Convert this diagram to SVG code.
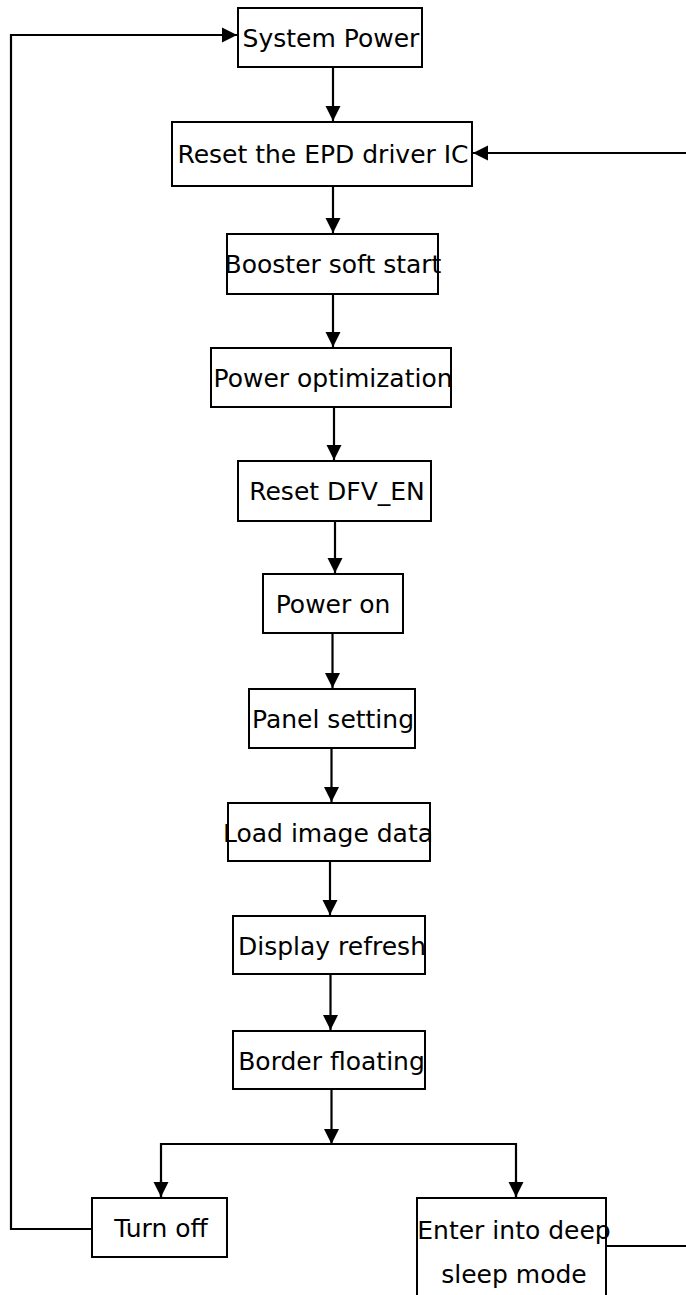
<svg xmlns="http://www.w3.org/2000/svg" width="686" height="1295" viewBox="0 0 686 1295">
<style>
.box{fill:#fff;stroke:#000;stroke-width:2}
.lbl{font-family:"DejaVu Sans","Liberation Sans",sans-serif;font-size:25px;fill:#000;text-anchor:middle}
.ln{fill:none;stroke:#000;stroke-width:2.2}
</style>
<defs>
<marker id="ah" markerUnits="userSpaceOnUse" markerWidth="16" markerHeight="16" viewBox="0 0 16 16" refX="15" refY="8" orient="auto">
<path d="M0,0.5 L15,8 L0,15.5 Z" fill="#000"/>
</marker>
</defs>
<rect width="686" height="1295" fill="#fff"/>
<g id="connectors">
<path class="ln" d="M92,1229 H11 V35 H237" marker-end="url(#ah)"/>
<path class="ln" d="M333,67 V121" marker-end="url(#ah)"/>
<path class="ln" d="M686,153 H473" marker-end="url(#ah)"/>
<path class="ln" d="M333,186 V233" marker-end="url(#ah)"/>
<path class="ln" d="M333,294 V347" marker-end="url(#ah)"/>
<path class="ln" d="M334,407 V460" marker-end="url(#ah)"/>
<path class="ln" d="M335,521 V573" marker-end="url(#ah)"/>
<path class="ln" d="M332.5,633 V688" marker-end="url(#ah)"/>
<path class="ln" d="M331.5,748 V802" marker-end="url(#ah)"/>
<path class="ln" d="M330,861 V915" marker-end="url(#ah)"/>
<path class="ln" d="M330.5,974 V1030" marker-end="url(#ah)"/>
<path class="ln" d="M331.5,1089 V1144" marker-end="url(#ah)"/>
<path class="ln" d="M161,1197 V1144 H516 V1197" />
<path class="ln" d="M161,1180 V1197" marker-end="url(#ah)"/>
<path class="ln" d="M516,1180 V1197" marker-end="url(#ah)"/>
<path class="ln" d="M606,1246 H686"/>
</g>
<g id="n1"><rect class="box" x="238" y="8" width="184" height="59"/><text class="lbl" x="331" y="46.5">System Power</text></g>
<g id="n2"><rect class="box" x="172" y="122" width="300" height="64"/><text class="lbl" x="323" y="163">Reset the EPD driver IC</text></g>
<g id="n3"><rect class="box" x="227" y="234" width="211" height="60"/><text class="lbl" x="333" y="273">Booster soft start</text></g>
<g id="n4"><rect class="box" x="211" y="348" width="240" height="59"/><text class="lbl" x="333" y="386.5">Power optimization</text></g>
<g id="n5"><rect class="box" x="238" y="461" width="193" height="60"/><text class="lbl" x="337" y="500">Reset DFV_EN</text></g>
<g id="n6"><rect class="box" x="263" y="574" width="140" height="59"/><text class="lbl" x="333" y="613">Power on</text></g>
<g id="n7"><rect class="box" x="249" y="689" width="166" height="59"/><text class="lbl" x="333" y="727.5">Panel setting</text></g>
<g id="n8"><rect class="box" x="228" y="803" width="202" height="58"/><text class="lbl" x="328" y="841.5">Load image data</text></g>
<g id="n9"><rect class="box" x="233" y="916" width="192" height="58"/><text class="lbl" x="332" y="954.5">Display refresh</text></g>
<g id="n10"><rect class="box" x="233" y="1031" width="192" height="58"/><text class="lbl" x="331.5" y="1069.5">Border floating</text></g>
<g id="n11"><rect class="box" x="92" y="1198" width="135" height="59"/><text class="lbl" x="161" y="1237">Turn off</text></g>
<g id="n12"><rect class="box" x="417" y="1198" width="189" height="110"/><text class="lbl" x="514" y="1238.5">Enter into deep</text><text class="lbl" x="514" y="1283">sleep mode</text></g>
</svg>
